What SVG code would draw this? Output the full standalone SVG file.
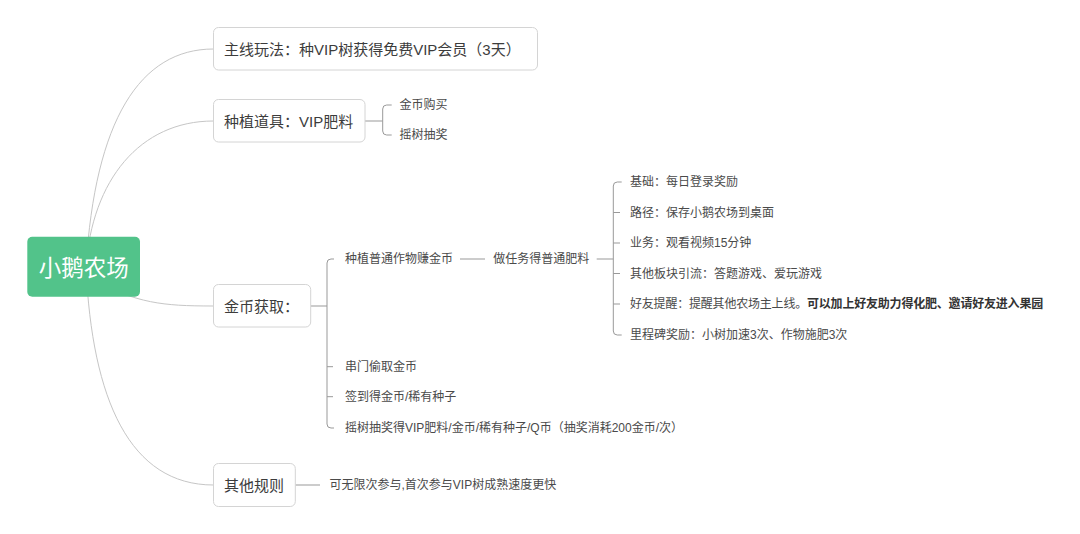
<svg xmlns="http://www.w3.org/2000/svg" width="1080" height="534" viewBox="0 0 1080 534">
<style>
text{font-family:"Liberation Sans","Noto Sans CJK SC",sans-serif;dominant-baseline:central}
.box{fill:#fff;stroke:#d4d4d4;stroke-width:1}
.nt{font-size:15px;fill:#3c3c3c}
.ct{font-size:12px;fill:#4a4a4a}
.b{font-weight:bold;fill:#333}
.curve{fill:none;stroke:#c6c6c6;stroke-width:1}
.br{fill:none;stroke:#999;stroke-width:1}
</style>
<rect width="1080" height="534" fill="#fff"/>
<g id="connectors">
<path class="curve" d="M86 267 C95 120 140 49 213.5 49"/>
<path class="curve" d="M86 267 C92 180 140 121 213.5 121"/>
<path class="curve" d="M90 280 C140 303 160 306 213.5 306"/>
<path class="curve" d="M86 267 C92 400 130 485 213.5 485"/>
<path class="br" d="M365 121 H382.7"/>
<path class="br" d="M391.7 105 H386.7 Q382.7 105 382.7 109 V131 Q382.7 135 386.7 135 H391.7"/>
<path class="br" d="M310.7 306 H327"/>
<path class="br" d="M334 259 H331 Q327 259 327 263 V424 Q327 428 331 428 H334"/>
<path class="br" d="M327 366.7 H333 M327 396.7 H333"/>
<path class="br" d="M460 259 H485"/>
<path class="br" d="M596.7 259 H613.3"/>
<path class="br" d="M621.7 182 H617.3 Q613.3 182 613.3 186 V331 Q613.3 335 617.3 335 H621.7"/>
<path class="br" d="M613.3 212.5 H620 M613.3 243 H620 M613.3 273.5 H620 M613.3 304 H620"/>
<path class="br" d="M295.3 485 H320"/>
</g>
<g id="root">
<rect x="27.3" y="236.7" width="112.7" height="60" rx="5" fill="#52C38A"/>
<text x="83.7" y="268" font-size="22.5" fill="#fff" text-anchor="middle">小鹅农场</text>
</g>
<g id="n-main">
<rect class="box" x="213.5" y="27.5" width="324" height="42.5" rx="5"/>
<text class="nt" x="224" y="49">主线玩法：种VIP树获得免费VIP会员（3天）</text>
</g>
<g id="n-tool">
<rect class="box" x="213.5" y="99.5" width="151.5" height="42.5" rx="5"/>
<text class="nt" x="224" y="121">种植道具：VIP肥料</text>
</g>
<g id="n-tool-1"><text class="ct" x="399.5" y="105">金币购买</text></g>
<g id="n-tool-2"><text class="ct" x="399.5" y="135">摇树抽奖</text></g>
<g id="n-coin">
<rect class="box" x="213.5" y="284.5" width="97.2" height="42.5" rx="5"/>
<text class="nt" x="224" y="306">金币获取：</text>
</g>
<g id="n-coin-1"><text class="ct" x="345" y="259">种植普通作物赚金币</text></g>
<g id="n-coin-1-1"><text class="ct" x="493.3" y="259">做任务得普通肥料</text></g>
<g id="n-task-1"><text class="ct" x="630" y="182">基础：每日登录奖励</text></g>
<g id="n-task-2"><text class="ct" x="630" y="212.5">路径：保存小鹅农场到桌面</text></g>
<g id="n-task-3"><text class="ct" x="630" y="243">业务：观看视频15分钟</text></g>
<g id="n-task-4"><text class="ct" x="630" y="273.5">其他板块引流：答题游戏、爱玩游戏</text></g>
<g id="n-task-5"><text class="ct" x="630" y="304" letter-spacing="-0.2">好友提醒：提醒其他农场主上线。<tspan class="b">可以加上好友助力得化肥、邀请好友进入果园</tspan></text></g>
<g id="n-task-6"><text class="ct" x="630" y="335">里程碑奖励：小树加速3次、作物施肥3次</text></g>
<g id="n-coin-2"><text class="ct" x="345" y="366.7">串门偷取金币</text></g>
<g id="n-coin-3"><text class="ct" x="345" y="396.7">签到得金币/稀有种子</text></g>
<g id="n-coin-4"><text class="ct" x="345" y="428">摇树抽奖得VIP肥料/金币/稀有种子/Q币（抽奖消耗200金币/次）</text></g>
<g id="n-other">
<rect class="box" x="213.5" y="463.5" width="81.8" height="43" rx="5"/>
<text class="nt" x="224" y="485">其他规则</text>
</g>
<g id="n-other-1"><text class="ct" x="329.5" y="485">可无限次参与,首次参与VIP树成熟速度更快</text></g>
</svg>
